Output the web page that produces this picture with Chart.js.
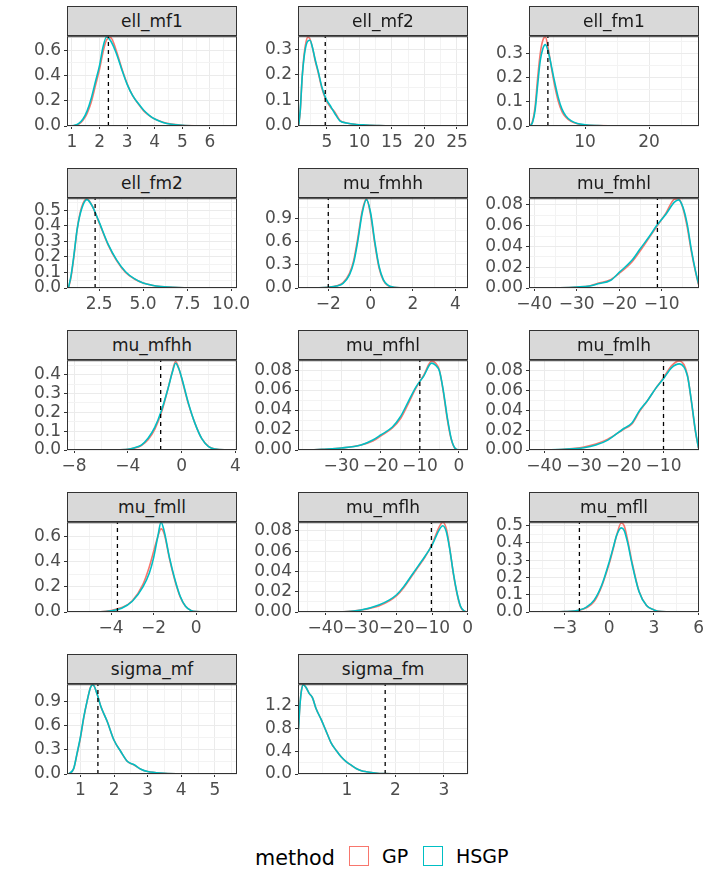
<!DOCTYPE html>
<html>
<head>
<meta charset="utf-8">
<script src="https://cdn.jsdelivr.net/npm/chart.js@4.4.0/dist/chart.umd.min.js"></script>
<style>
  html, body { margin: 0; padding: 0; background: #ffffff; }
  #wrap { position: relative; width: 706px; height: 882px; overflow: hidden; font-family: 'DejaVu Sans', sans-serif; }
  .strip { position: absolute; box-sizing: border-box; background: #D9D9D9; border: 1px solid #333333;
           color: #1A1A1A; font-size: 17px; display: flex; align-items: center; justify-content: center; z-index: 2; }
  canvas { position: absolute; z-index: 1; }
  .leg { position: absolute; white-space: nowrap; line-height: 1; color: #000; }
  .key { position: absolute; box-sizing: border-box; width: 20px; height: 20px; background: #fff; border: 1.5px solid; }
</style>
</head>
<body>
<div id="wrap"></div>
<script>
// ---------------- DATA ----------------
const panelNames = ['ell_mf1','ell_mf2','ell_fm1','ell_fm2','mu_fmhh','mu_fmhl','mu_mfhh','mu_mfhl','mu_fmlh','mu_fmll','mu_mflh','mu_mfll','sigma_mf','sigma_fm'];
const seriesNames = ['GP', 'HSGP'];
const seriesColors = ['#F8766D', '#00BFC4'];

// dashed reference value per panel
const refLines = [2.32, 4.75, 4.2, 2.27, -2.0, -11.0, -1.56, -10.0, -10.0, -3.7, -10.2, -2.0, 1.52, 1.79];

// axis limits
const xMin = [0.82, 0.56, 1.25, 0.67, -3.43, -41.25, -8.53, -41.1, -43.8, -6.07, -47.75, -5.38, 0.6, -0.01];
const xMax = [6.98, 26.7, 27.8, 10.34, 4.6, -1.2, 4.12, 2.3, -1.08, 1.92, 0.1, 6.02, 5.66, 3.5];
const yMax = [0.711, 0.351, 0.373, 0.579, 1.169, 0.0864, 0.477, 0.0899, 0.0907, 0.713, 0.0885, 0.52, 1.117, 1.57];

// tick labels (major breaks)
const xBreaks = [[1,2,3,4,5,6],[5,10,15,20,25],[10,20],[2.5,5,7.5,10],[-2,0,2,4],[-40,-30,-20,-10],[-8,-4,0,4],[-30,-20,-10,0],[-40,-30,-20,-10],[-4,-2,0],[-40,-30,-20,-10,0],[-3,0,3,6],[1,2,3,4,5],[1,2,3]];
const xDigits = [0,0,0,1,0,0,0,0,0,0,0,0,0,0];
const yBreaks = [[0,0.2,0.4,0.6],[0,0.1,0.2,0.3],[0,0.1,0.2,0.3],[0,0.1,0.2,0.3,0.4,0.5],[0,0.3,0.6,0.9],[0,0.02,0.04,0.06,0.08],[0,0.1,0.2,0.3,0.4],[0,0.02,0.04,0.06,0.08],[0,0.02,0.04,0.06,0.08],[0,0.2,0.4,0.6],[0,0.02,0.04,0.06,0.08],[0,0.1,0.2,0.3,0.4,0.5],[0,0.3,0.6,0.9],[0,0.4,0.8,1.2]];
const yDigits = [1,1,1,1,1,2,1,2,2,1,2,1,1,1];

// density curves: x grid, GP density, HSGP density
const x_ell_mf1    = [0.95,1.1,1.25,1.4,1.55,1.7,1.85,2.0,2.12,2.25,2.4,2.6,2.8,3.0,3.2,3.4,3.6,3.8,4.0,4.3,4.6,5.0,5.5,6.0,6.7];
const gp_ell_mf1   = [0,0.003,0.015,0.045,0.10,0.19,0.32,0.45,0.58,0.68,0.70,0.60,0.46,0.335,0.24,0.175,0.12,0.083,0.055,0.03,0.015,0.006,0.002,0.001,0];
const hsgp_ell_mf1 = [0,0.005,0.02,0.055,0.12,0.22,0.35,0.48,0.62,0.705,0.675,0.58,0.45,0.33,0.24,0.18,0.125,0.085,0.055,0.028,0.014,0.006,0.002,0.001,0];

const x_ell_mf2    = [0.65,0.9,1.2,1.5,1.8,2.1,2.4,2.8,3.2,3.7,4.2,4.8,5.5,6.2,7.0,8.0,9.5,11,13,16,20,26];
const gp_ell_mf2   = [0,0.055,0.19,0.28,0.33,0.348,0.34,0.305,0.255,0.205,0.15,0.105,0.075,0.055,0.022,0.012,0.006,0.004,0.002,0.001,0.0005,0];
const hsgp_ell_mf2 = [0,0.06,0.19,0.27,0.315,0.333,0.335,0.305,0.26,0.21,0.155,0.11,0.08,0.05,0.02,0.012,0.006,0.004,0.002,0.001,0.0005,0];

const x_ell_fm1    = [1.4,1.8,2.2,2.6,3.0,3.4,3.8,4.2,4.7,5.2,5.8,6.4,7.0,7.8,8.8,10,12,15,19,24,27.5];
const gp_ell_fm1   = [0,0.02,0.08,0.2,0.3,0.355,0.37,0.33,0.25,0.175,0.105,0.06,0.036,0.019,0.009,0.004,0.002,0.001,0.0005,0.0002,0];
const hsgp_ell_fm1 = [0,0.015,0.065,0.17,0.27,0.32,0.338,0.315,0.255,0.19,0.12,0.07,0.042,0.022,0.01,0.005,0.002,0.001,0.0005,0.0002,0];

const x_ell_fm2    = [0.75,0.9,1.05,1.25,1.5,1.8,2.1,2.5,3.0,3.5,4.0,4.5,5.0,5.5,6.0,7.0,8.0,10.0];
const gp_ell_fm2   = [0,0.07,0.19,0.38,0.52,0.575,0.53,0.42,0.28,0.175,0.1,0.058,0.032,0.018,0.01,0.003,0.001,0];
const hsgp_ell_fm2 = [0,0.08,0.2,0.38,0.51,0.57,0.53,0.425,0.285,0.18,0.105,0.06,0.032,0.018,0.01,0.003,0.001,0];

const x_mu_fmhh    = [-3.2,-2.5,-2.0,-1.6,-1.3,-1.0,-0.8,-0.6,-0.4,-0.2,0.0,0.2,0.4,0.6,0.8,1.1,1.5,2.0,3.0,4.3];
const gp_mu_fmhh   = [0,0.003,0.01,0.028,0.07,0.19,0.36,0.66,1.0,1.16,0.95,0.57,0.26,0.1,0.035,0.01,0.003,0.001,0,0];
const hsgp_mu_fmhh = [0,0.003,0.01,0.025,0.06,0.17,0.33,0.62,0.97,1.15,0.98,0.6,0.28,0.11,0.04,0.01,0.003,0.001,0,0];

const x_mu_fmhl    = [-38,-34,-30,-27,-25,-22,-20,-17,-15,-13,-11,-9,-7,-6,-5,-4,-3,-2,-1.3];
const gp_mu_fmhl   = [0,0.0003,0.001,0.002,0.0045,0.008,0.014,0.025,0.036,0.048,0.060,0.072,0.0855,0.086,0.077,0.059,0.035,0.015,0.003];
const hsgp_mu_fmhl = [0,0.0003,0.001,0.002,0.004,0.0074,0.015,0.0266,0.038,0.049,0.061,0.071,0.0826,0.0848,0.078,0.062,0.037,0.016,0.004];

const x_mu_mfhh    = [-7.5,-5,-4,-3.5,-3,-2.5,-2,-1.5,-1,-0.7,-0.45,-0.2,0,0.5,1,1.5,2,2.5,3.5];
const gp_mu_mfhh   = [0,0.001,0.004,0.01,0.024,0.055,0.11,0.2,0.33,0.415,0.47,0.432,0.38,0.245,0.14,0.06,0.019,0.005,0];
const hsgp_mu_mfhh = [0,0.001,0.004,0.012,0.026,0.062,0.12,0.21,0.33,0.41,0.461,0.43,0.385,0.25,0.14,0.06,0.018,0.005,0];

const x_mu_mfhl    = [-38,-35,-30,-25,-22,-20,-17,-15,-13,-11,-9,-7,-6,-5,-4,-3,-2,-1,0];
const gp_mu_mfhl   = [0,0.0007,0.002,0.005,0.009,0.014,0.022,0.031,0.046,0.062,0.075,0.089,0.087,0.08,0.058,0.031,0.011,0.0015,0];
const hsgp_mu_mfhl = [0,0.0007,0.002,0.005,0.01,0.015,0.023,0.033,0.048,0.063,0.074,0.087,0.085,0.079,0.0595,0.033,0.0116,0.0017,0];

const x_mu_fmlh    = [-40,-35,-30,-27,-24,-20,-18,-16,-14,-12,-10,-8,-6,-4,-3,-2,-1.2];
const gp_mu_fmlh   = [0,0.0007,0.003,0.006,0.011,0.021,0.026,0.039,0.05,0.062,0.073,0.085,0.09,0.076,0.049,0.019,0.002];
const hsgp_mu_fmlh = [0,0.0007,0.0023,0.005,0.01,0.0217,0.027,0.04,0.05,0.062,0.072,0.083,0.087,0.075,0.05,0.02,0.002];

const x_mu_fmll    = [-5.5,-4.5,-4,-3.5,-3,-2.5,-2.2,-2,-1.8,-1.65,-1.5,-1.25,-1,-0.75,-0.5,-0.25,0,0.5,1.5];
const gp_mu_fmll   = [0,0.002,0.012,0.035,0.09,0.22,0.36,0.48,0.6,0.66,0.62,0.42,0.25,0.12,0.045,0.013,0.003,0,0];
const hsgp_mu_fmll = [0,0.002,0.01,0.03,0.085,0.2,0.31,0.43,0.6,0.713,0.64,0.43,0.26,0.125,0.045,0.013,0.003,0,0];

const x_mu_mflh    = [-40,-35,-30,-25,-22,-20,-18,-16,-14,-12,-10,-8,-7,-6,-5,-4,-3,-2,-1,0];
const gp_mu_mflh   = [0,0.0003,0.002,0.006,0.011,0.016,0.024,0.034,0.044,0.054,0.067,0.084,0.0885,0.082,0.062,0.037,0.018,0.005,0.001,0];
const hsgp_mu_mflh = [0,0.0003,0.002,0.007,0.012,0.017,0.025,0.035,0.045,0.055,0.066,0.081,0.085,0.079,0.061,0.038,0.019,0.0056,0.001,0];

const x_mu_mfll    = [-4.5,-3.5,-3,-2,-1.5,-1,-0.5,0,0.25,0.5,0.8,1.0,1.25,1.5,2,2.5,3,3.5,4.5];
const gp_mu_mfll   = [0,0.001,0.002,0.01,0.026,0.062,0.15,0.28,0.36,0.445,0.515,0.5,0.41,0.3,0.12,0.038,0.012,0.002,0];
const hsgp_mu_mfll = [0,0.001,0.002,0.012,0.03,0.07,0.156,0.29,0.367,0.444,0.487,0.473,0.396,0.29,0.117,0.037,0.012,0.002,0];

const x_sigma_mf    = [0.65,0.8,0.9,1.0,1.1,1.2,1.3,1.37,1.5,1.6,1.8,2.0,2.2,2.4,2.6,2.8,3.0,3.5,4.0,5.4];
const gp_sigma_mf   = [0,0.065,0.25,0.45,0.70,0.91,1.08,1.112,0.99,0.85,0.65,0.42,0.28,0.155,0.11,0.06,0.03,0.01,0.003,0];
const hsgp_sigma_mf = [0,0.07,0.26,0.46,0.71,0.91,1.076,1.11,0.99,0.85,0.65,0.42,0.28,0.155,0.115,0.06,0.03,0.01,0.003,0];

const x_sigma_fm    = [0.0,0.03,0.06,0.1,0.15,0.22,0.29,0.36,0.47,0.57,0.67,0.78,0.88,0.99,1.09,1.19,1.3,1.4,1.54,1.78,2.2,3.3];
const gp_sigma_fm   = [0.78,1.21,1.46,1.56,1.52,1.41,1.33,1.15,0.95,0.75,0.55,0.41,0.3,0.21,0.152,0.096,0.058,0.04,0.023,0.006,0.002,0];
const hsgp_sigma_fm = [0.78,1.2,1.45,1.56,1.52,1.41,1.33,1.15,0.95,0.75,0.55,0.41,0.3,0.21,0.154,0.097,0.057,0.04,0.023,0.006,0.002,0];

const xData    = [x_ell_mf1, x_ell_mf2, x_ell_fm1, x_ell_fm2, x_mu_fmhh, x_mu_fmhl, x_mu_mfhh, x_mu_mfhl, x_mu_fmlh, x_mu_fmll, x_mu_mflh, x_mu_mfll, x_sigma_mf, x_sigma_fm];
const gpData   = [gp_ell_mf1, gp_ell_mf2, gp_ell_fm1, gp_ell_fm2, gp_mu_fmhh, gp_mu_fmhl, gp_mu_mfhh, gp_mu_mfhl, gp_mu_fmlh, gp_mu_fmll, gp_mu_mflh, gp_mu_mfll, gp_sigma_mf, gp_sigma_fm];
const hsgpData = [hsgp_ell_mf1, hsgp_ell_mf2, hsgp_ell_fm1, hsgp_ell_fm2, hsgp_mu_fmhh, hsgp_mu_fmhl, hsgp_mu_mfhh, hsgp_mu_mfhl, hsgp_mu_fmlh, hsgp_mu_fmll, hsgp_mu_mflh, hsgp_mu_mfll, hsgp_sigma_mf, hsgp_sigma_fm];

// ---------------- LAYOUT ----------------
const COLS = [67, 298, 529];
const ROWS = [6, 168, 330, 492, 654];
const PW = 170, PH = 91, STRIP_H = 29;
const PADL = 70, PADR = 26, PADT = 12, PADB = 30;
const FONT = 'DejaVu Sans';
const TICK_COLOR = '#4D4D4D';
const TICK_SIZE = 17;

Chart.defaults.font.family = FONT;

function makeTicks(breaks, min, max) {
  const h = (breaks[1] - breaks[0]) / 2;
  const out = [];
  const k0 = Math.ceil(min / h - 1e-9), k1 = Math.floor(max / h + 1e-9);
  for (let k = k0; k <= k1; k++) {
    const v = +(k * h).toFixed(10);
    out.push({ value: v, isMaj: breaks.some(b => Math.abs(b - v) < 1e-9) });
  }
  return out;
}
function fmt(v, d) {
  const s = Math.abs(v).toFixed(d);
  return v < -1e-12 ? '\u2212' + s : s;
}
const gridColor = c => (c.tick && c.tick.isMaj) ? '#EBEBEB' : '#F3F3F3';
const tickMarkColor = c => (c.tick && c.tick.isMaj) ? '#333333' : 'rgba(0,0,0,0)';

const panelBorder = {
  id: 'panelBorder',
  afterDraw(chart) {
    const { ctx, chartArea: a } = chart;
    ctx.save();
    ctx.strokeStyle = '#333333';
    ctx.lineWidth = 1;
    ctx.strokeRect(a.left + 0.5, a.top + 0.5, a.right - a.left - 1, a.bottom - a.top - 1);
    ctx.restore();
  }
};

const wrap = document.getElementById('wrap');

panelNames.forEach((name, i) => {
  const col = i % 3, row = Math.floor(i / 3);
  const L = COLS[col], T = ROWS[row] + STRIP_H;

  const cv = document.createElement('canvas');
  const cw = PADL + PW + PADR, ch = PADT + PH + PADB;
  cv.width = cw; cv.height = ch;
  cv.style.left = (L - PADL) + 'px'; cv.style.top = (T - PADT) + 'px';
  cv.style.width = cw + 'px'; cv.style.height = ch + 'px';
  wrap.appendChild(cv);

  const strip = document.createElement('div');
  strip.className = 'strip';
  strip.style.left = L + 'px'; strip.style.top = ROWS[row] + 'px';
  strip.style.width = PW + 'px'; strip.style.height = (STRIP_H + 1) + 'px';
  strip.textContent = name;
  wrap.appendChild(strip);

  const xs = xData[i];
  const toPts = arr => xs.map((x, k) => ({ x: x, y: arr[k] }));

  new Chart(cv, {
    type: 'line',
    data: {
      datasets: [
        { label: 'ref', data: [{ x: refLines[i], y: 0 }, { x: refLines[i], y: yMax[i] }],
          borderColor: '#000000', borderWidth: 1.3, borderDash: [4, 4], pointRadius: 0, pointHoverRadius: 0,
          tension: 0, cubicInterpolationMode: 'default', fill: false, order: 0 },
        { label: seriesNames[1], data: toPts(hsgpData[i]), borderColor: seriesColors[1], borderWidth: 1.6,
          pointRadius: 0, pointHoverRadius: 0, cubicInterpolationMode: 'monotone', fill: false, order: 1 },
        { label: seriesNames[0], data: toPts(gpData[i]), borderColor: seriesColors[0], borderWidth: 1.6,
          pointRadius: 0, pointHoverRadius: 0, cubicInterpolationMode: 'monotone', fill: false, order: 2 }
      ]
    },
    options: {
      responsive: false,
      animation: false,
      events: [],
      layout: { padding: { left: 0, right: PADR, top: PADT, bottom: 0 } },
      plugins: { legend: { display: false }, tooltip: { enabled: false }, title: { display: false } },
      scales: {
        x: {
          type: 'linear', min: xMin[i], max: xMax[i],
          afterBuildTicks: s => { s.ticks = makeTicks(xBreaks[i], xMin[i], xMax[i]); },
          afterFit: s => { s.height = PADB; },
          border: { display: false },
          grid: { color: gridColor, lineWidth: 1, drawTicks: true, tickLength: 3, tickColor: tickMarkColor, tickWidth: 1 },
          ticks: { autoSkip: false, maxRotation: 0, minRotation: 0, padding: 3, color: TICK_COLOR,
                   font: { family: FONT, size: TICK_SIZE },
                   callback: (v, idx, t) => (t[idx] && t[idx].isMaj) ? fmt(v, xDigits[i]) : '' }
        },
        y: {
          type: 'linear', min: 0, max: yMax[i],
          afterBuildTicks: s => { s.ticks = makeTicks(yBreaks[i], 0, yMax[i]); },
          afterFit: s => { s.width = PADL; },
          border: { display: false },
          grid: { color: gridColor, lineWidth: 1, drawTicks: true, tickLength: 3, tickColor: tickMarkColor, tickWidth: 1 },
          ticks: { autoSkip: false, padding: 3, color: TICK_COLOR,
                   font: { family: FONT, size: TICK_SIZE },
                   callback: (v, idx, t) => (t[idx] && t[idx].isMaj) ? fmt(v, yDigits[i]) : '' }
        }
      }
    },
    plugins: [panelBorder]
  });
});

// ---------------- LEGEND ----------------
function addText(txt, left, top, size) {
  const d = document.createElement('div');
  d.className = 'leg';
  d.style.left = left + 'px'; d.style.top = top + 'px'; d.style.fontSize = size + 'px';
  d.textContent = txt;
  wrap.appendChild(d);
}
function addKey(color, left, top) {
  const k = document.createElement('div');
  k.className = 'key';
  k.style.left = left + 'px'; k.style.top = top + 'px'; k.style.borderColor = color;
  wrap.appendChild(k);
}
addText('method', 255, 848, 20.7);
addKey(seriesColors[0], 349, 846);
addText(seriesNames[0], 382, 847, 19);
addKey(seriesColors[1], 423, 846);
addText(seriesNames[1], 456, 847, 19);
</script>
</body>
</html>
